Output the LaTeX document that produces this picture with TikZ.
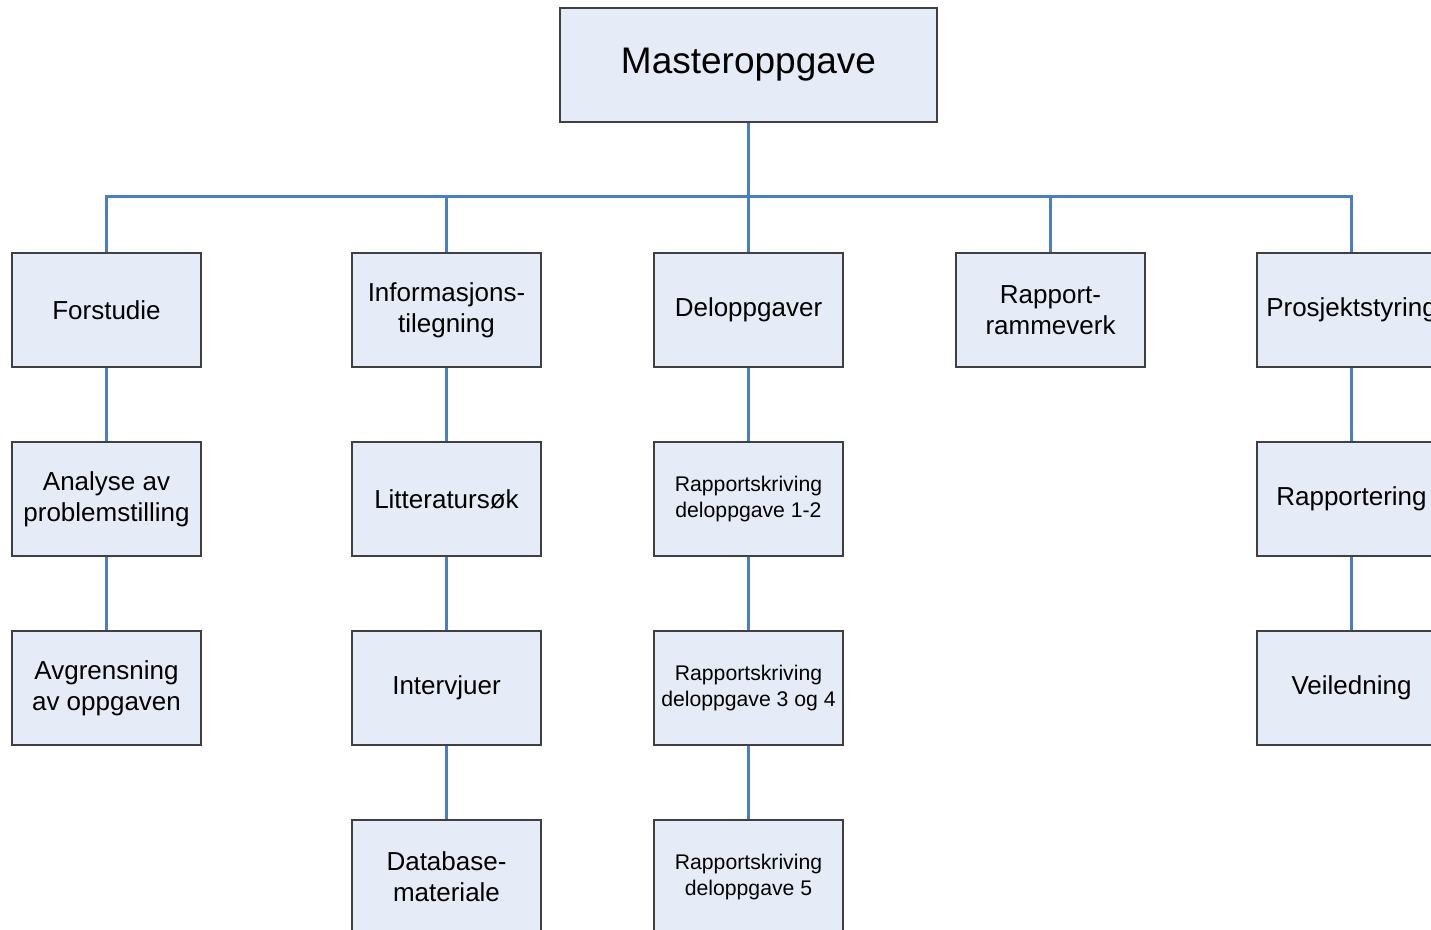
\documentclass[tikz,border=0pt]{standalone}
\usepackage{fontspec}
\setmainfont{Liberation Sans}
\usetikzlibrary{shadows}
\definecolor{boxfill}{RGB}{230,236,247}
\definecolor{boxline}{RGB}{64,64,64}
\definecolor{linkblue}{RGB}{74,126,194}
\tikzset{
  x=0.5pt, y=-0.5pt,
  wbs/.style={draw=boxline, line width=0.6pt, fill=boxfill,
    minimum width=94.5pt, minimum height=57pt, inner sep=2pt,
    align=center, font=\fontsize{13}{15.6}\selectfont,
    drop shadow={shadow xshift=0.6pt, shadow yshift=-0.6pt, fill=black!55, opacity=1}},
  wbssmall/.style={wbs, font=\fontsize{10.6}{12.6}\selectfont},
  wbstop/.style={wbs, minimum width=188.5pt, font=\fontsize{18.5}{22}\selectfont},
  link/.style={draw=linkblue, line width=1.5pt},
}
\begin{document}
\begin{tikzpicture}
\useasboundingbox (0,0) rectangle (1431,930);
\clip (0,0) rectangle (1431,930);
\coordinate (bus) at (0,197);

% root
\node[wbstop] (root) at (748.5,65) {Masteroppgave};

% first level
\node[wbs] (forstudie) at (106.5,310) {Forstudie};
\node[wbs] (info) at (446.5,310) {Informasjons-\\tilegning};
\node[wbs] (del) at (748.5,310) {Deloppgaver};
\node[wbs] (rapram) at (1050.5,310) {Rapport-\\rammeverk};
\node[wbs] (prosj) at (1351.5,310) {Prosjektstyring};

% Forstudie branch
\node[wbs] (analyse) at (106.5,499) {Analyse av\\problemstilling};
\node[wbs] (avgr) at (106.5,688) {Avgrensning\\av oppgaven};

% Informasjonstilegning branch
\node[wbs] (litt) at (446.5,499) {Litteraturs\o k};
\node[wbs] (interv) at (446.5,688) {Intervjuer};
\node[wbs] (db) at (446.5,877) {Database-\\materiale};

% Deloppgaver branch
\node[wbssmall] (rs12) at (748.5,499) {Rapportskriving\\deloppgave 1-2};
\node[wbssmall] (rs34) at (748.5,688) {Rapportskriving\\deloppgave 3 og 4};
\node[wbssmall] (rs5) at (748.5,877) {Rapportskriving\\deloppgave 5};

% Prosjektstyring branch
\node[wbs] (rapp) at (1351.5,499) {Rapportering};
\node[wbs] (veil) at (1351.5,688) {Veiledning};

% connectors
\draw[link] (root.south) -- (root.south |- bus);
\foreach \c in {forstudie,info,del,rapram,prosj}
  \draw[link] (root.south |- bus) -| (\c.north);
\draw[link] (forstudie) -- (analyse);
\draw[link] (analyse) -- (avgr);
\draw[link] (info) -- (litt);
\draw[link] (litt) -- (interv);
\draw[link] (interv) -- (db);
\draw[link] (del) -- (rs12);
\draw[link] (rs12) -- (rs34);
\draw[link] (rs34) -- (rs5);
\draw[link] (prosj) -- (rapp);
\draw[link] (rapp) -- (veil);
\end{tikzpicture}
\end{document}
